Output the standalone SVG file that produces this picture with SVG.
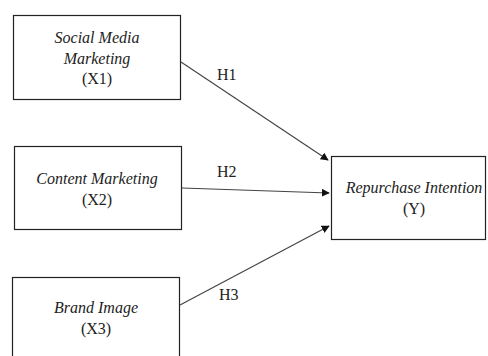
<svg xmlns="http://www.w3.org/2000/svg" width="488" height="356" viewBox="0 0 488 356">
<style>
.box{fill:#fff;stroke:#222;stroke-width:1.2}
text{font-family:'Liberation Serif','Times New Roman','DejaVu Serif',serif;font-size:16px;fill:#222}
.t{text-anchor:middle}
.i{font-style:italic}
.c{stroke:#444;stroke-width:1.2;fill:none;marker-end:url(#ah)}
</style>
<defs>
<marker id="ah" viewBox="0 0 10 10" refX="9" refY="5" markerWidth="8" markerHeight="8" markerUnits="userSpaceOnUse" orient="auto">
<path d="M0,0 L10,5 L0,10 z" fill="#111"/>
</marker>
</defs>
<rect width="488" height="356" fill="#fff"/>
<g id="x1">
<rect class="box" x="13.5" y="15.5" width="167" height="84"/>
<text class="t i" x="97" y="43">Social Media</text>
<text class="t i" x="97" y="64">Marketing</text>
<text class="t" x="97" y="84">(X1)</text>
</g>
<g id="x2">
<rect class="box" x="14.5" y="146.5" width="167" height="83"/>
<text class="t i" x="97" y="184">Content Marketing</text>
<text class="t" x="97" y="205">(X2)</text>
</g>
<g id="x3">
<rect class="box" x="12.5" y="277.5" width="167" height="90"/>
<text class="t i" x="96" y="313">Brand Image</text>
<text class="t" x="96" y="334">(X3)</text>
</g>
<g id="y">
<rect class="box" x="331.5" y="156.5" width="154" height="83"/>
<text class="t i" x="414" y="193">Repurchase Intention</text>
<text class="t" x="414" y="214">(Y)</text>
</g>
<g id="connectors">
<line class="c" x1="181" y1="62" x2="328" y2="160"/>
<line class="c" x1="182" y1="188" x2="329" y2="193"/>
<line class="c" x1="180" y1="305" x2="329" y2="226"/>
<text x="217" y="80">H1</text>
<text x="217" y="177">H2</text>
<text x="219" y="300">H3</text>
</g>
</svg>
